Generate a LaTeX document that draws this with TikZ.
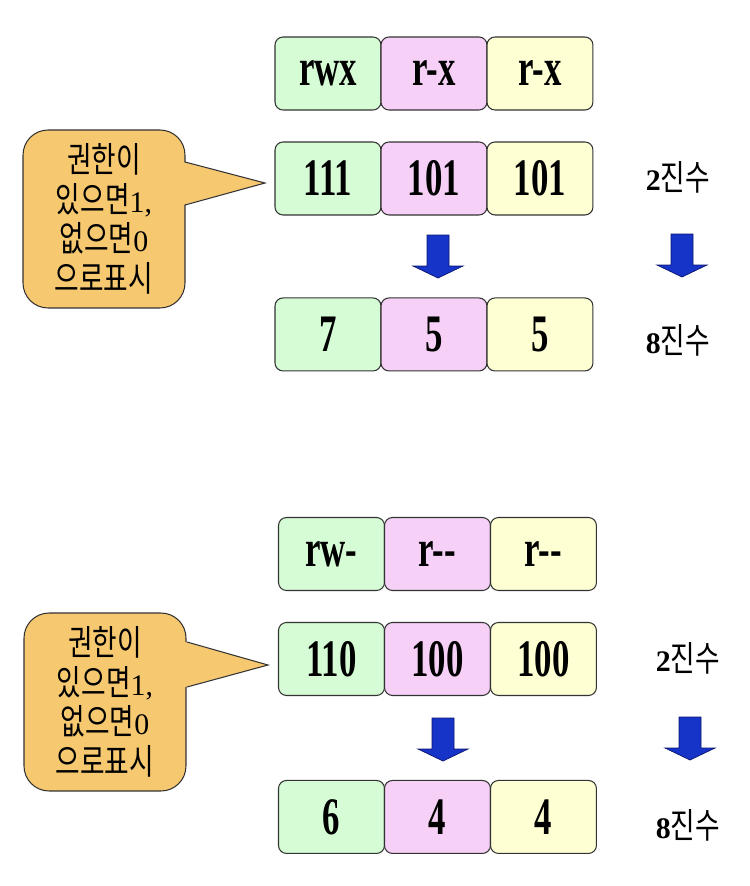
\documentclass[tikz,border=0pt]{standalone}
\usepackage{fontspec}
\setmainfont{Liberation Serif}
\newfontfamily\boxfont[FakeStretch=0.66]{Liberation Serif}
\newfontfamily\kr[FakeStretch=0.76]{Noto Sans CJK KR}
\usetikzlibrary{positioning}

\definecolor{permgreen}{RGB}{214,252,214}
\definecolor{permpink}{RGB}{246,208,246}
\definecolor{permyellow}{RGB}{255,255,212}
\definecolor{notefill}{RGB}{246,200,112}
\definecolor{arrowblue}{RGB}{22,52,200}
\definecolor{arrowedge}{RGB}{10,20,110}

\newcommand\permfont{\boxfont\bfseries\fontsize{30}{30}\selectfont}
\newcommand\krfont{\kr\fontsize{20}{22.5}\selectfont}
\newcommand\dg[1]{{\rmfamily\fontsize{17}{17}\selectfont #1}}
\newcommand\bdg[1]{{\rmfamily\bfseries\fontsize{17}{17}\selectfont #1}}

\tikzset{
  permbox/.style={draw=black!80, line width=0.6pt, rounded corners=0.16cm,
    minimum width=2.12cm, minimum height=1.46cm, inner sep=0pt, outer sep=0pt,
    font=\permfont},
  notebox/.style={draw=black!80, line width=0.6pt, fill=notefill,
    rounded corners=0.5cm, minimum width=3.24cm, minimum height=3.56cm,
    align=center, font=\krfont},
  unitlabel/.style={font=\krfont, inner sep=0pt},
  blockarrow/.pic={
    \filldraw[fill=arrowblue, draw=arrowedge, line width=0.4pt]
      (-11,0) -- (-11,31) -- (-25,31) -- (0,43) -- (25,31) -- (11,31) -- (11,0) -- cycle;
  }
}

\begin{document}
\begin{tikzpicture}[x=0.02cm, y=-0.02cm]
  \useasboundingbox (0,0) rectangle (750,886);
  % Upper panel: rwx r-x r-x
  \begin{scope}
    \node[permbox, fill=permgreen] (perm1) at (328,73.5) {rwx};
    \node[permbox, fill=permpink, right=0pt of perm1] (perm2) {r-x};
    \node[permbox, fill=permyellow, right=0pt of perm2] (perm3) {r-x};
    \node[permbox, fill=permgreen, below=0.64cm of perm1] (bin1) {111};
    \node[permbox, fill=permpink, right=0pt of bin1] (bin2) {101};
    \node[permbox, fill=permyellow, right=0pt of bin2] (bin3) {101};
    \node[permbox, fill=permgreen, below=1.66cm of bin1] (oct1) {7};
    \node[permbox, fill=permpink, right=0pt of oct1] (oct2) {5};
    \node[permbox, fill=permyellow, right=0pt of oct2] (oct3) {5};
    \pic at (438,235) {blockarrow};
    \node[unitlabel] (binlabel) at (678,177) {\bdg{2}진수};
    \pic at (682,234) {blockarrow};
    \node[unitlabel] (octlabel) at (678,340) {\bdg{8}진수};
    \node[notebox] (note) at (104,219) {권한이\\있으면\dg{1,}\\없으면\dg{0}\\으로표시};
    \coordinate (tipa) at (185,162);
    \coordinate (tipb) at (185,205);
    \fill[notefill] (183,162) -- (265,183) -- (183,205) -- cycle;
    \draw[black!80, line width=0.6pt] (tipa) -- (265,183) -- (tipb);
  \end{scope}
  % Lower panel: rw- r-- r--
  \begin{scope}
    \node[permbox, fill=permgreen] (perm1) at (331.5,554) {rw-};
    \node[permbox, fill=permpink, right=0pt of perm1] (perm2) {r--};
    \node[permbox, fill=permyellow, right=0pt of perm2] (perm3) {r--};
    \node[permbox, fill=permgreen, below=0.64cm of perm1] (bin1) {110};
    \node[permbox, fill=permpink, right=0pt of bin1] (bin2) {100};
    \node[permbox, fill=permyellow, right=0pt of bin2] (bin3) {100};
    \node[permbox, fill=permgreen, below=1.7cm of bin1] (oct1) {6};
    \node[permbox, fill=permpink, right=0pt of oct1] (oct2) {4};
    \node[permbox, fill=permyellow, right=0pt of oct2] (oct3) {4};
    \pic at (443,718) {blockarrow};
    \node[unitlabel] (binlabel) at (688,658) {\bdg{2}진수};
    \pic at (690,717) {blockarrow};
    \node[unitlabel] (octlabel) at (688,825) {\bdg{8}진수};
    \node[notebox] (note) at (105,702) {권한이\\있으면\dg{1,}\\없으면\dg{0}\\으로표시};
    \coordinate (tipa) at (187,642);
    \coordinate (tipb) at (187,687);
    \fill[notefill] (185,642) -- (268,665) -- (185,687) -- cycle;
    \draw[black!80, line width=0.6pt] (tipa) -- (268,665) -- (tipb);
  \end{scope}
\end{tikzpicture}
\end{document}
